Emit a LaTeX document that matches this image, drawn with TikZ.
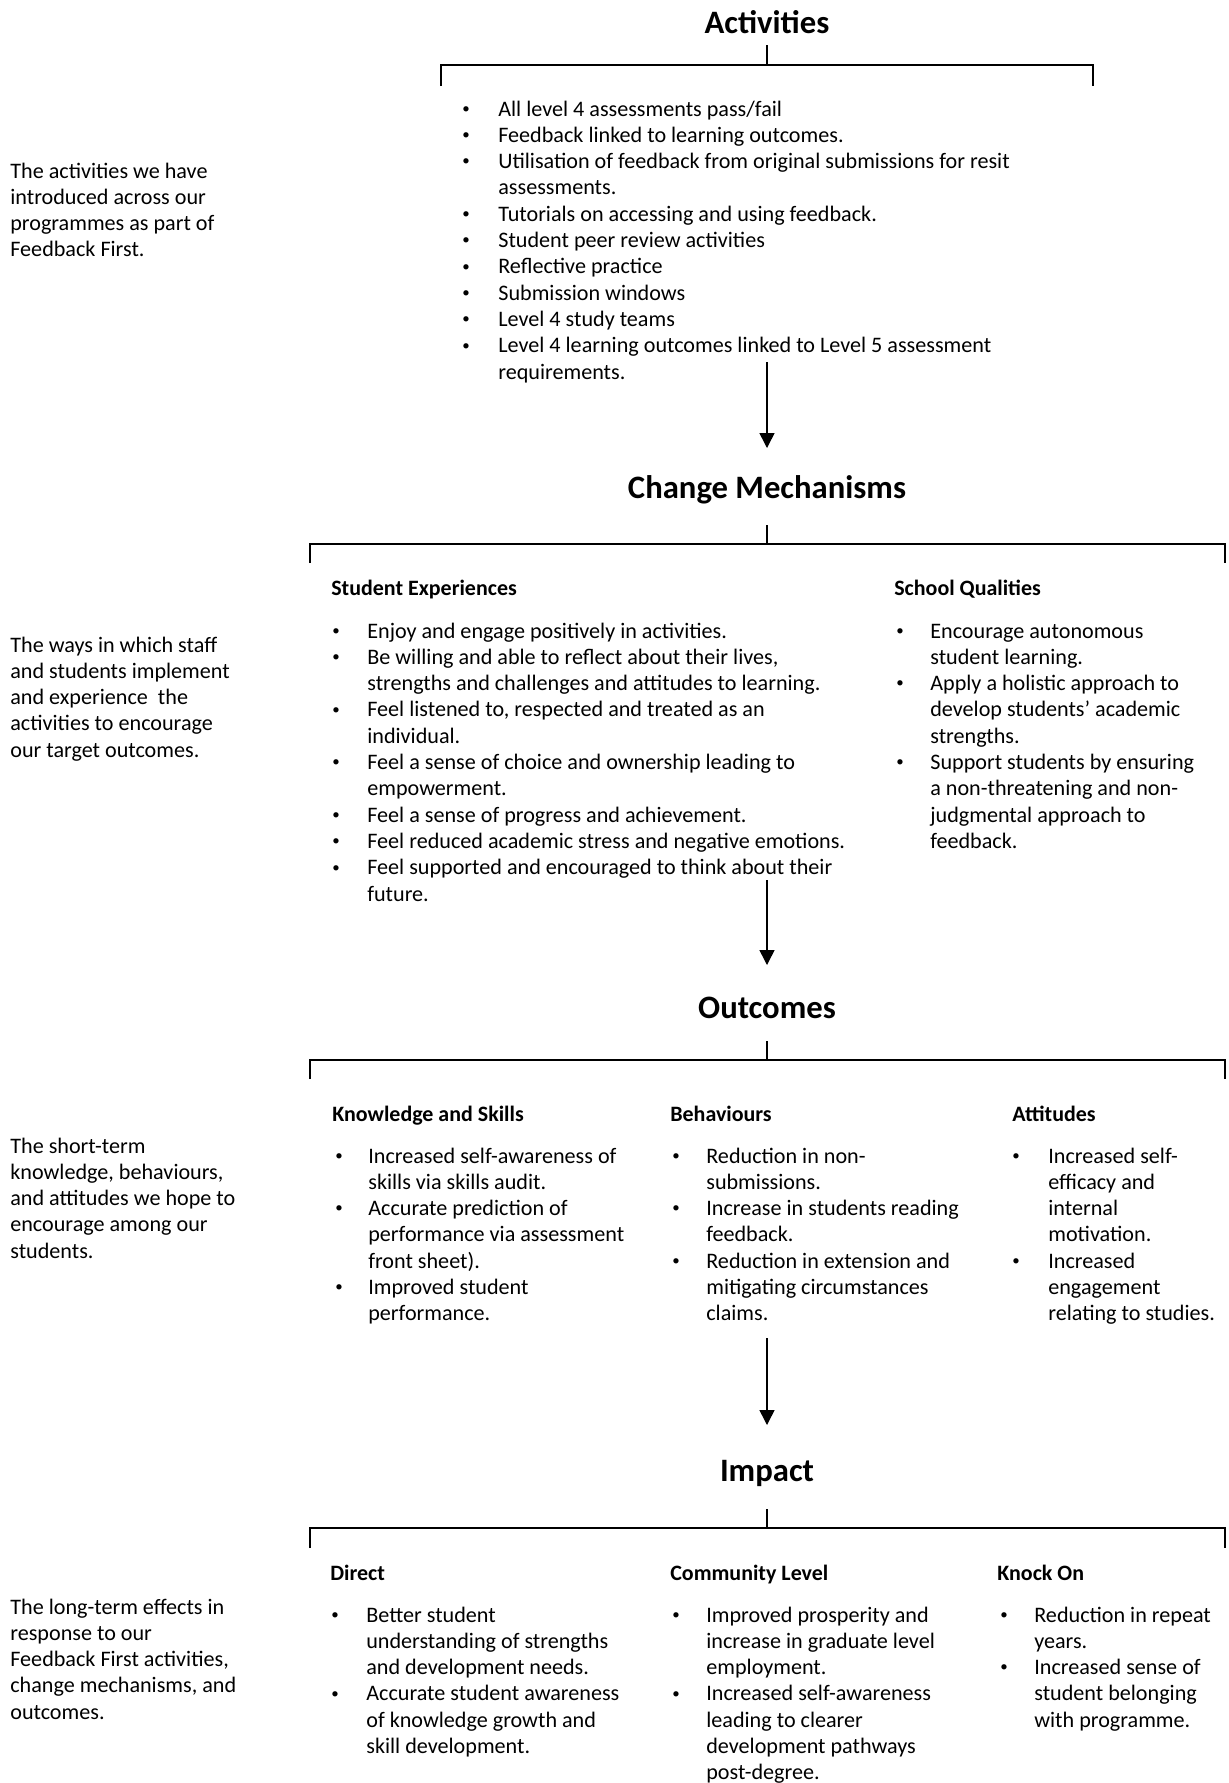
\documentclass[tikz,border=0pt]{standalone}
\usepackage{fontspec}
\setmainfont{Carlito}
\usetikzlibrary{arrows.meta}
\tikzset{
  sectitle/.style={anchor=base, inner sep=0pt, font=\fontsize{18.6}{22}\selectfont\bfseries},
  subhead/.style={anchor=base west, inner sep=0pt, font=\fontsize{12.5}{14.97}\selectfont\bfseries},
  bodytext/.style={anchor=base west, inner sep=0pt, font=\fontsize{12.6}{14.97}\selectfont},
  bracket/.style={line width=1.1pt},
  flow/.style={line width=0.85pt, -{Triangle[length=0.3cm,width=0.3cm]}}
}
\newcommand{\bul}{\raisebox{0.12em}{\fontsize{8.5}{8.5}\selectfont\textbullet}}
\newcommand{\bulletlist}[2]{\begin{tabular}[t]{@{}p{#1}@{}l@{}}#2\end{tabular}}
\newcommand{\desctext}[1]{\begin{tabular}[t]{@{}l@{}}#1\end{tabular}}
\begin{document}
\begin{tikzpicture}[x=0.02cm, y=-0.02cm]
\useasboundingbox (0,0) rectangle (1229,1783);

% Activities
\node[sectitle] (act) at (767,33) {Activities};
\draw[bracket] (767,45) -- (767,65);
\draw[bracket] (441,86) -- (441,65) -- (1093,65) -- (1093,86);
\node[bodytext] (actdesc) at (10,178) {\desctext{The activities we have\\introduced across our\\programmes as part of\\Feedback First.}};
\node[bodytext] (actlist) at (462,116) {\bulletlist{0.72cm}{
\bul & All level 4 assessments pass/fail\\
\bul & Feedback linked to learning outcomes.\\
\bul & Utilisation of feedback from original submissions for resit\\
 & assessments.\\
\bul & Tutorials on accessing and using feedback.\\
\bul & Student peer review activities\\
\bul & Reflective practice\\
\bul & Submission windows\\
\bul & Level 4 study teams\\
\bul & Level 4 learning outcomes linked to Level 5 assessment\\
 & requirements.}};
\coordinate (a1s) at (767,362);
\coordinate (a1e) at (767,448);
\draw[flow] (a1s) -- (a1e);

% Change Mechanisms
\node[sectitle] (chg) at (767,498) {Change Mechanisms};
\draw[bracket] (767,525) -- (767,544);
\draw[bracket] (310,563) -- (310,544) -- (1225,544) -- (1225,563);
\node[bodytext] (chgdesc) at (10,652) {\desctext{The ways in which staff\\and students implement\\and experience\ \ the\\activities to encourage\\our target outcomes.}};
\node[subhead] (stuexp) at (331,595) {Student Experiences};
\node[subhead] (schq) at (894,595) {School Qualities};
\node[bodytext] (stulist) at (332,638) {\bulletlist{0.70cm}{
\bul & Enjoy and engage positively in activities.\\
\bul & Be willing and able to reflect about their lives,\\
 & strengths and challenges and attitudes to learning.\\
\bul & Feel listened to, respected and treated as an\\
 & individual.\\
\bul & Feel a sense of choice and ownership leading to\\
 & empowerment.\\
\bul & Feel a sense of progress and achievement.\\
\bul & Feel reduced academic stress and negative emotions.\\
\bul & Feel supported and encouraged to think about their\\
 & future.}};
\node[bodytext] (schlist) at (896,638) {\bulletlist{0.68cm}{
\bul & Encourage autonomous\\
 & student learning.\\
\bul & Apply a holistic approach to\\
 & develop students’ academic\\
 & strengths.\\
\bul & Support students by ensuring\\
 & a non-threatening and non-\\
 & judgmental approach to\\
 & feedback.}};
\coordinate (a2s) at (767,880);
\coordinate (a2e) at (767,965);
\draw[flow] (a2s) -- (a2e);

% Outcomes
\node[sectitle] (out) at (767,1018) {Outcomes};
\draw[bracket] (767,1041) -- (767,1060);
\draw[bracket] (310,1079) -- (310,1060) -- (1225,1060) -- (1225,1079);
\node[bodytext] (outdesc) at (10,1153) {\desctext{The short-term\\knowledge, behaviours,\\and attitudes we hope to\\encourage among our\\students.}};
\node[subhead] (know) at (332,1121) {Knowledge and Skills};
\node[subhead] (behav) at (670,1121) {Behaviours};
\node[subhead] (attit) at (1012,1121) {Attitudes};
\node[bodytext] (knowlist) at (335,1163) {\bulletlist{0.66cm}{
\bul & Increased self-awareness of\\
 & skills via skills audit.\\
\bul & Accurate prediction of\\
 & performance via assessment\\
 & front sheet).\\
\bul & Improved student\\
 & performance.}};
\node[bodytext] (behavlist) at (672,1163) {\bulletlist{0.68cm}{
\bul & Reduction in non-\\
 & submissions.\\
\bul & Increase in students reading\\
 & feedback.\\
\bul & Reduction in extension and\\
 & mitigating circumstances\\
 & claims.}};
\node[bodytext] (attitlist) at (1012,1163) {\bulletlist{0.72cm}{
\bul & Increased self-\\
 & efficacy and\\
 & internal\\
 & motivation.\\
\bul & Increased\\
 & engagement\\
 & relating to studies.}};
\coordinate (a3s) at (767,1338);
\coordinate (a3e) at (767,1425);
\draw[flow] (a3s) -- (a3e);

% Impact
\node[sectitle] (imp) at (767,1481) {Impact};
\draw[bracket] (767,1509) -- (767,1528);
\draw[bracket] (310,1548) -- (310,1528) -- (1225,1528) -- (1225,1548);
\node[bodytext] (impdesc) at (10,1614) {\desctext{The long-term effects in\\response to our\\Feedback First activities,\\change mechanisms, and\\outcomes.}};
\node[subhead] (direct) at (330,1580) {Direct};
\node[subhead] (comm) at (670,1580) {Community Level};
\node[subhead] (knock) at (997,1580) {Knock On};
\node[bodytext] (directlist) at (331,1622) {\bulletlist{0.70cm}{
\bul & Better student\\
 & understanding of strengths\\
 & and development needs.\\
\bul & Accurate student awareness\\
 & of knowledge growth and\\
 & skill development.}};
\node[bodytext] (commlist) at (672,1622) {\bulletlist{0.68cm}{
\bul & Improved prosperity and\\
 & increase in graduate level\\
 & employment.\\
\bul & Increased self-awareness\\
 & leading to clearer\\
 & development pathways\\
 & post-degree.}};
\node[bodytext] (knocklist) at (1000,1622) {\bulletlist{0.68cm}{
\bul & Reduction in repeat\\
 & years.\\
\bul & Increased sense of\\
 & student belonging\\
 & with programme.}};
\end{tikzpicture}
\end{document}
